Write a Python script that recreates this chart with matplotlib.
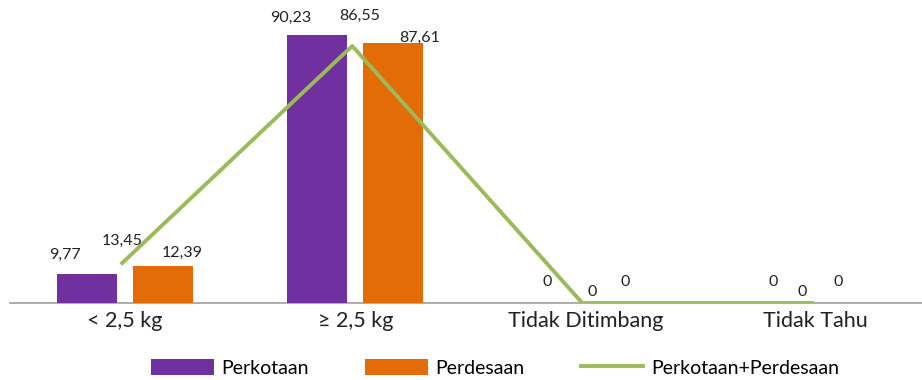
import matplotlib
matplotlib.use('Agg')
import matplotlib.pyplot as plt
import numpy as np

plt.rcParams['font.family'] = ['Lato', 'DejaVu Sans']

kategori = ['< 2,5 kg', '≥ 2,5 kg', 'Tidak Ditimbang', 'Tidak Tahu']
perkotaan = [9.77, 90.23, 0, 0]
perdesaan = [12.39, 87.61, 0, 0]
gabungan = [13.45, 86.55, 0, 0]

ungu = '#7030A0'
oranye = '#E36C09'
hijau = '#9BBB59'

# geser label (piksel) dari titik data
geser_kota = [(-22, 19), (-27, 17), (0, 21), (-4, 21)]
geser_desa = [(19, 13), (27, 5), (2, 21), (-15, 21)]
geser_gab = [(0, 22), (7, 30), (10, 11), (-10, 11)]

fig = plt.figure(figsize=(9.22, 3.80), dpi=100)
ax = fig.add_axes([0.011, 0.2026, 0.998, 0.7816])

x = np.arange(len(kategori))
w = 0.26
off = 0.165

b1 = ax.bar(x - off, perkotaan, w, color=ungu, label='Perkotaan')
b2 = ax.bar(x + off, perdesaan, w, color=oranye, label='Perdesaan')
l1, = ax.plot(x - 0.013, gabungan, color=hijau, lw=2.8, label='Perkotaan+Perdesaan')

def fmt(v):
    return ('%.2f' % v).replace('.', ',') if v else '0'

def label(xx, yy, v, g):
    ax.annotate(fmt(v), (xx, yy), xytext=(g[0] * 0.72, g[1] * 0.72), textcoords='offset points',
                ha='center', va='center', fontsize=11.5, color='#222222')

for i in range(len(kategori)):
    label(x[i] - off, perkotaan[i], perkotaan[i], geser_kota[i])
    label(x[i] + off, perdesaan[i], perdesaan[i], geser_desa[i])
    label(x[i] - 0.013, gabungan[i], gabungan[i], geser_gab[i])

ax.set_xlim(-0.5, 3.5)
ax.set_ylim(0, 100)
ax.set_xticks(x)
ax.set_xticklabels(kategori, fontsize=15.5, color='#222222')
ax.tick_params(axis='x', length=0, pad=6)
ax.set_yticks([])
for s in ['top', 'right', 'left']:
    ax.spines[s].set_visible(False)
ax.spines['bottom'].set_color('#A0A0A0')
ax.spines['bottom'].set_linewidth(1.2)
ax.spines['bottom'].set_zorder(0.5)

fig.legend([b1, b2, l1], ['Perkotaan', 'Perdesaan', 'Perkotaan+Perdesaan'],
           loc='center', bbox_to_anchor=(0.537, 0.032), ncol=3, frameon=False,
           fontsize=14, handlelength=3.2, handleheight=0.9, columnspacing=2.9, handletextpad=0.4)

fig.savefig('out.png', dpi=100)
